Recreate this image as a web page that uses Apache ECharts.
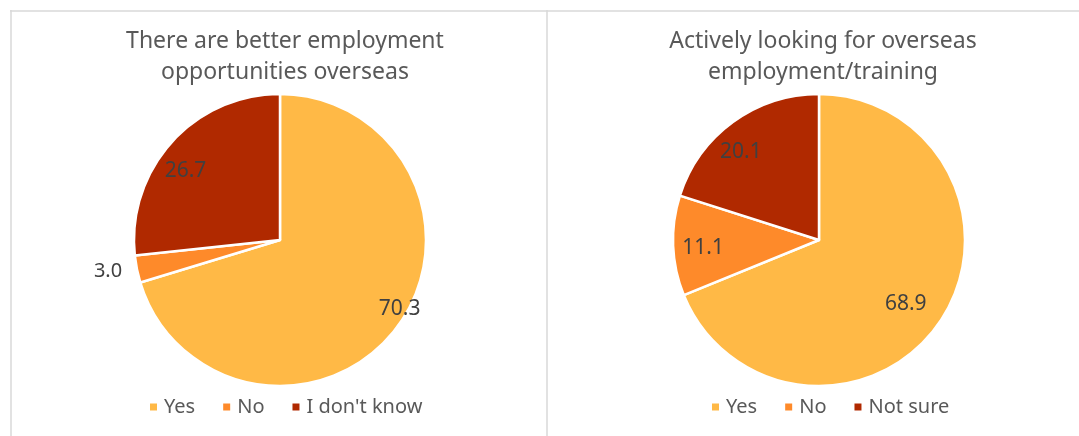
<!DOCTYPE html>
<html>
<head>
<meta charset="utf-8">
<script src="https://cdn.jsdelivr.net/npm/echarts@6/dist/echarts.min.js"></script>
<style>
  html, body { margin: 0; padding: 0; background: #fff; }
  #chart { width: 1079px; height: 436px; }
</style>
</head>
<body>
<div id="chart"></div>
<script>
// Survey results: two pies, shares in percent
const titleLeft = 'There are better employment\nopportunities overseas';
const titleRight = 'Actively looking for overseas\nemployment/training';

const categoriesLeft = ['Yes', 'No', "I don't know"];
const valuesLeft = [70.3, 3.0, 26.7];

const categoriesRight = ['Yes', 'No', 'Not sure'];
const valuesRight = [68.9, 11.1, 20.1];

const sliceColors = ['#FFB946', '#FE8A2A', '#B02900'];
const FONT = '"Noto Sans", Lato, sans-serif';
const TEXT_GREY = '#595959';
const LABEL_GREY = '#404040';
const SMALL_SHARE = 5; // slices below this share get their label outside

const fmt = p => Number(p.value).toFixed(1);

function slicesFor(names, values) {
  return names.map((n, i) => {
    const item = { name: n, value: values[i], itemStyle: { color: sliceColors[i] } };
    if (values[i] < SMALL_SHARE) {
      item.label = {
        show: true, position: 'outside', formatter: fmt,
        fontFamily: FONT, fontSize: 20, color: LABEL_GREY
      };
      item.labelLine = { show: false, length: 10, length2: 0 };
    }
    return item;
  });
}

// transparent twin pie that only carries the inside labels, placed further out
function labelCarrier(names, values, center, shift) {
  return {
    type: 'pie', center: center, radius: [0, 232],
    startAngle: 90, clockwise: true, silent: true, avoidLabelOverlap: false,
    itemStyle: { color: 'rgba(0,0,0,0)', borderWidth: 0 },
    label: {
      show: true, position: 'inside', formatter: fmt,
      fontFamily: FONT, fontSize: 21, color: LABEL_GREY
    },
    labelLine: { show: false },
    emphasis: { disabled: true },
    data: names.map((n, i) => {
      const item = { name: n, value: values[i] };
      if (values[i] < SMALL_SHARE) item.label = { show: false };
      if (shift && shift[i]) item.label = Object.assign({}, item.label, { offset: shift[i] });
      return item;
    })
  };
}

function mainPie(names, values, center) {
  return {
    type: 'pie', center: center, radius: [0, 146],
    startAngle: 90, clockwise: true, avoidLabelOverlap: false,
    itemStyle: { borderColor: '#ffffff', borderWidth: 2.5 },
    label: { show: false },
    labelLine: { show: false },
    emphasis: { disabled: true },
    data: slicesFor(names, values)
  };
}

const chart = echarts.init(document.getElementById('chart'), null, { renderer: 'canvas' });

const legendCommon = {
  orient: 'horizontal', top: 392, icon: 'rect',
  itemWidth: 9, itemHeight: 9, itemGap: 26, selectedMode: false,
  textStyle: { fontFamily: FONT, fontSize: 20, color: TEXT_GREY, padding: [0, 0, 0, 1] }
};

chart.setOption({
  animation: false,
  backgroundColor: '#ffffff',
  title: [
    { text: titleLeft, left: 280, top: 21, textAlign: 'center',
      textStyle: { fontFamily: FONT, fontSize: 23, fontWeight: 'normal', color: TEXT_GREY, lineHeight: 31 } },
    { text: titleRight, left: 818, top: 21, textAlign: 'center',
      textStyle: { fontFamily: FONT, fontSize: 23, fontWeight: 'normal', color: TEXT_GREY, lineHeight: 31 } }
  ],
  legend: [
    Object.assign({ left: 143, data: categoriesLeft }, legendCommon),
    Object.assign({ left: 705, data: categoriesRight }, legendCommon)
  ],
  series: [
    mainPie(categoriesLeft, valuesLeft, [280, 240]),
    mainPie(categoriesRight, valuesRight, [819, 240]),
    labelCarrier(categoriesLeft, valuesLeft, [280, 240], [[24, -2], null, [-6, 11]]),
    labelCarrier(categoriesRight, valuesRight, [819, 240], [[-12, -2], [3, 3], [-8, 8]])
  ],
  graphic: [
    { type: 'line', shape: { x1: 10, y1: 11, x2: 1079, y2: 11 }, style: { stroke: '#d9d9d9', lineWidth: 1.5 }, silent: true },
    { type: 'line', shape: { x1: 11, y1: 10, x2: 11, y2: 436 }, style: { stroke: '#d9d9d9', lineWidth: 1.5 }, silent: true },
    { type: 'line', shape: { x1: 547, y1: 10, x2: 547, y2: 436 }, style: { stroke: '#d9d9d9', lineWidth: 1.5 }, silent: true }
  ]
});
</script>
</body>
</html>
